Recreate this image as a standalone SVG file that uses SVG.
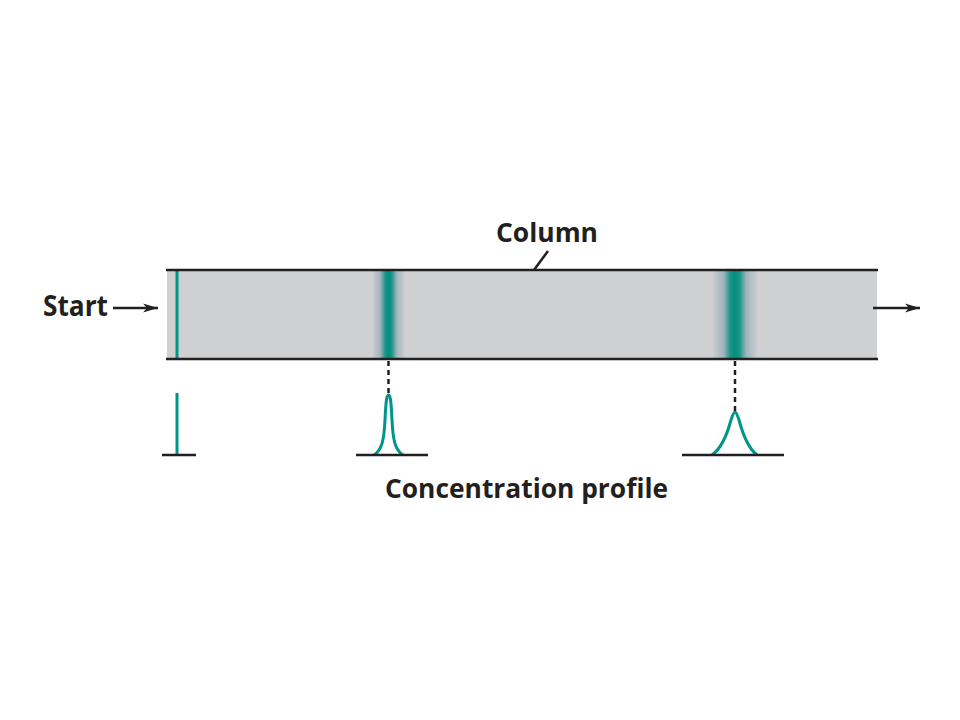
<svg xmlns="http://www.w3.org/2000/svg" width="960" height="720" viewBox="0 0 960 720">
<defs>
<style>
.lbl{font-family:"Open Sans","Liberation Sans",sans-serif;font-weight:700;fill:#231f20}
.edge{stroke:#231f20;stroke-width:2.5;fill:none}
.dash{stroke:#231f20;stroke-width:2.5;stroke-dasharray:5 4;fill:none}
.peak{stroke:#00958a;stroke-width:3;fill:none;stroke-linejoin:round}
</style>
<linearGradient id="band" x1="0" y1="0" x2="1" y2="0">
<stop offset="0" stop-color="#cfd0d2"/>
<stop offset="0.25" stop-color="#9fb4bb"/>
<stop offset="0.4" stop-color="#1c9488"/>
<stop offset="0.5" stop-color="#009082"/>
<stop offset="0.6" stop-color="#1c9488"/>
<stop offset="0.75" stop-color="#9fb4bb"/>
<stop offset="1" stop-color="#cfd0d2"/>
</linearGradient>
<marker id="arr" viewBox="0 0 15 10" refX="15" refY="5" markerWidth="15" markerHeight="10" markerUnits="userSpaceOnUse" orient="auto">
<path d="M0,0.5 L15,5 L0,9.5 L4,5 Z" fill="#231f20"/>
</marker>
</defs>
<rect width="960" height="720" fill="#ffffff"/>
<g id="column">
<rect x="167" y="270" width="710" height="89" fill="#cfd0d2"/>
<rect x="372" y="271" width="33" height="87" fill="url(#band)"/>
<rect x="712" y="271" width="46" height="87" fill="url(#band)"/>
<line x1="177" y1="271" x2="177" y2="358" stroke="#00958a" stroke-width="3"/>
<line class="edge" x1="166" y1="270" x2="878" y2="270"/>
<line class="edge" x1="166" y1="359" x2="878" y2="359"/>
</g>
<g id="label-column">
<text class="lbl" x="496" y="242" font-size="27" textLength="102" lengthAdjust="spacingAndGlyphs">Column</text>
<line class="edge" x1="548" y1="251" x2="534" y2="270" stroke-width="2"/>
</g>
<g id="label-start">
<text class="lbl" x="43" y="316" font-size="28" textLength="65" lengthAdjust="spacingAndGlyphs">Start</text>
</g>
<g id="profile-start">
<line x1="177" y1="393" x2="177" y2="455" stroke="#00958a" stroke-width="3"/>
<line class="edge" x1="162" y1="455" x2="196" y2="455"/>
</g>
<g id="profile-1">
<path class="peak" d="M374,455 C382,450 384,440 385,420 C386,398 387,395 388.5,395 C390,395 391,398 392,420 C393,440 395,450 403,455"/>
<line class="edge" x1="356" y1="455" x2="428" y2="455"/>
</g>
<g id="profile-2">
<path class="peak" d="M712,455 C722,448 727,435 731,420 C733,414 734,412 735,412 C736,412 737,414 739,420 C743,435 748,448 757,455"/>
<line class="edge" x1="682" y1="455" x2="784" y2="455"/>
</g>
<g id="label-profile">
<text class="lbl" x="385" y="498" font-size="26" textLength="283" lengthAdjust="spacingAndGlyphs">Concentration profile</text>
</g>
<g id="connectors">
<line class="edge" x1="113" y1="308" x2="158" y2="308" stroke-width="2" marker-end="url(#arr)"/>
<line class="edge" x1="873" y1="308" x2="920" y2="308" stroke-width="2" marker-end="url(#arr)"/>
<line class="dash" x1="388.5" y1="361" x2="388.5" y2="395"/>
<line class="dash" x1="735" y1="361" x2="735" y2="412"/>
</g>
</svg>
